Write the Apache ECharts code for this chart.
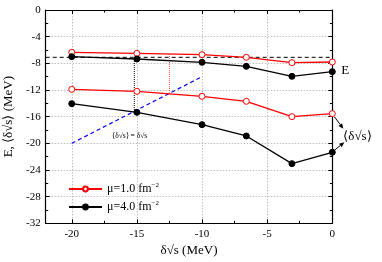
<!DOCTYPE html>
<html><head><meta charset="utf-8">
<script src="https://cdn.jsdelivr.net/npm/echarts@6/dist/echarts.min.js"></script>
<style>html,body{margin:0;padding:0;background:#fff}#c{width:382px;height:262px}</style>
</head><body><div id="c"></div>
<script>
// ---- data ----
const xVals = [-20, -15, -10, -6.6, -3.1, 0];
const eMu1 = [-6.35, -6.5, -6.7, -7.1, -7.9, -7.8];
const eMu4 = [-7.0, -7.35, -7.85, -8.45, -9.95, -9.25];
const dMu1 = [-11.9, -12.2, -12.95, -13.7, -16.0, -15.55];
const dMu4 = [-14.05, -15.35, -17.2, -18.9, -23.05, -21.35];
const diagX = [-20, -10];          // <δ√s> = δ√s line
const hLineY = -7.1;               // dashed horizontal level
const hLineX = [-22, 0];
const vBlack = { x: -15.2, y: [-7.35, -15.35] };
const vRed = { x: -12.5, y: [-6.6, -12.4] };
const xMajor = [-20, -15, -10, -5, 0];
const xMinor = [-17.5, -12.5, -7.5, -2.5];
const legendNames = ['μ=1.0', 'μ=4.0'];

const F = '"Liberation Serif", "Times New Roman", serif';
const pairs = (xs, ys) => xs.map((x, i) => [x, ys[i]]);
const chart = echarts.init(document.getElementById('c'), null, { renderer: 'canvas' });

function xAx(pos, ticks, len, labels) {
  return {
    type: 'value', min: -22, max: 0, position: pos,
    axisLine: { onZero: false, lineStyle: { color: '#000', width: 1.2 } },
    axisTick: { show: true, inside: true, length: len, customValues: ticks, lineStyle: { color: '#000', width: 1 } },
    axisLabel: labels ? { show: true, customValues: xMajor, color: '#000', fontFamily: F, fontSize: 11, margin: 5 } : { show: false },
    splitLine: labels ? { show: true, lineStyle: { color: '#b0b0b0', type: [1.5, 1.5], width: 0.8 } } : { show: false },
    name: labels ? 'δ√s (MeV)' : '', nameLocation: 'middle', nameGap: 21,
    nameTextStyle: { color: '#000', fontFamily: F, fontSize: 13 }
  };
}
function yAx(pos, main) {
  return {
    type: 'value', min: -32, max: 0, interval: 4, position: pos,
    axisLine: { onZero: false, lineStyle: { color: '#000', width: 1.2 } },
    axisTick: { show: true, inside: true, length: 4, lineStyle: { color: '#000' } },
    minorTick: { show: true, splitNumber: 2, length: 2.5, lineStyle: { color: '#000' } },
    axisLabel: main ? { show: true, color: '#000', fontFamily: F, fontSize: 11, margin: 5 } : { show: false },
    splitLine: main ? { show: true, lineStyle: { color: '#b0b0b0', type: [1.5, 1.5], width: 0.8 } } : { show: false },
    name: main ? 'E, ⟨δ√s⟩ (MeV)' : '', nameLocation: 'middle', nameGap: 27,
    nameTextStyle: { color: '#000', fontFamily: F, fontSize: 13 }
  };
}
const red = '#ff0000', blk = '#000000';
function lineSeries(name, ys, color, filled, z) {
  return {
    type: 'line', name: name, xAxisIndex: 0, yAxisIndex: 0, data: pairs(xVals, ys), z: z,
    symbol: 'circle', symbolSize: 6,
    lineStyle: { color: color, width: 1.3 },
    itemStyle: { color: filled ? color : '#fff', borderColor: color, borderWidth: 1 }
  };
}
const option = {
  animation: false,
  grid: { left: 45.7, right: 49.7, top: 10, bottom: 38.7, outerBoundsMode: 'none', containLabel: false },
  xAxis: [xAx('bottom', xMajor, 4, true), xAx('bottom', xMinor, 2.5, false), xAx('top', xMajor, 4, false), xAx('top', xMinor, 2.5, false)],
  yAxis: [yAx('left', true), yAx('right', false)],
  legend: {
    data: legendNames, orient: 'vertical', left: 63, top: 177, itemGap: 5,
    itemWidth: 33, itemHeight: 6,
    formatter: n => n + ' fm{s|−2}',
    textStyle: { color: '#000', fontFamily: F, fontSize: 12, rich: { s: { fontSize: 7, fontFamily: F, verticalAlign: 'top', padding: [0, 0, 7, 0] } } }
  },
  series: [
    { type: 'line', name: 'hdash', data: hLineX.map(x => [x, hLineY]), symbol: 'none', z: 1,
      lineStyle: { color: '#000', width: 1, type: [4, 3] } },
    { type: 'line', name: 'diag', data: diagX.map(x => [x, x]), symbol: 'none', z: 1,
      lineStyle: { color: '#0000ff', width: 1.2, type: [4, 3] } },
    { type: 'line', name: 'vb', data: vBlack.y.map(y => [vBlack.x, y]), symbol: 'none', z: 1,
      lineStyle: { color: '#000', width: 1, type: [1, 1] } },
    { type: 'line', name: 'vr', data: vRed.y.map(y => [vRed.x, y]), symbol: 'none', z: 1,
      lineStyle: { color: '#ff5050', width: 1, type: [1, 1] } },
    lineSeries(legendNames[0], eMu1, red, false, 3),
    lineSeries(legendNames[1], eMu4, blk, true, 3),
    lineSeries(legendNames[0], dMu1, red, false, 3),
    lineSeries(legendNames[1], dMu4, blk, true, 3)
  ]
};
chart.setOption(option);

// annotations
const P = (x, y) => chart.convertToPixel({ gridIndex: 0 }, [x, y]);
function arrow(from, to) {
  const dx = to[0] - from[0], dy = to[1] - from[1], L = Math.hypot(dx, dy);
  const ux = dx / L, uy = dy / L, h = 5, w = 2.2;
  const bx = to[0] - ux * h, by = to[1] - uy * h;
  return [
    { type: 'line', shape: { x1: from[0], y1: from[1], x2: bx, y2: by }, style: { stroke: '#000', lineWidth: 1 } },
    { type: 'polygon', shape: { points: [to, [bx - uy * w, by + ux * w], [bx + uy * w, by - ux * w]] }, style: { fill: '#000' } }
  ];
}
const pr = P(0, dMu1[5]), pb = P(0, dMu4[5]), pe = P(0, eMu4[5]);
const els = [];
els.push(...arrow([pr[0] + 2, pr[1] + 3], [pr[0] + 11, pr[1] + 15]));
els.push(...arrow([pb[0] + 2, pb[1] - 2], [pb[0] + 12, pb[1] - 10]));
els.push({ type: 'text', x: pe[0] + 9, y: pe[1] - 1, style: { text: 'E', fill: '#000', font: '13px ' + F, verticalAlign: 'middle', align: 'left' } });
els.push({ type: 'text', x: pr[0] + 11, y: pr[1] + 23, style: { text: '⟨δ√s⟩', fill: '#000', font: '13px ' + F, verticalAlign: 'middle', align: 'left' } });
const pd = P(-16.9, -18.9);
els.push({ type: 'text', x: pd[0], y: pd[1], style: { text: '⟨δ√s⟩ = δ√s', fill: '#000', font: '7.5px ' + F, verticalAlign: 'middle', align: 'left' } });
chart.setOption({ graphic: { elements: els } });
</script></body></html>
